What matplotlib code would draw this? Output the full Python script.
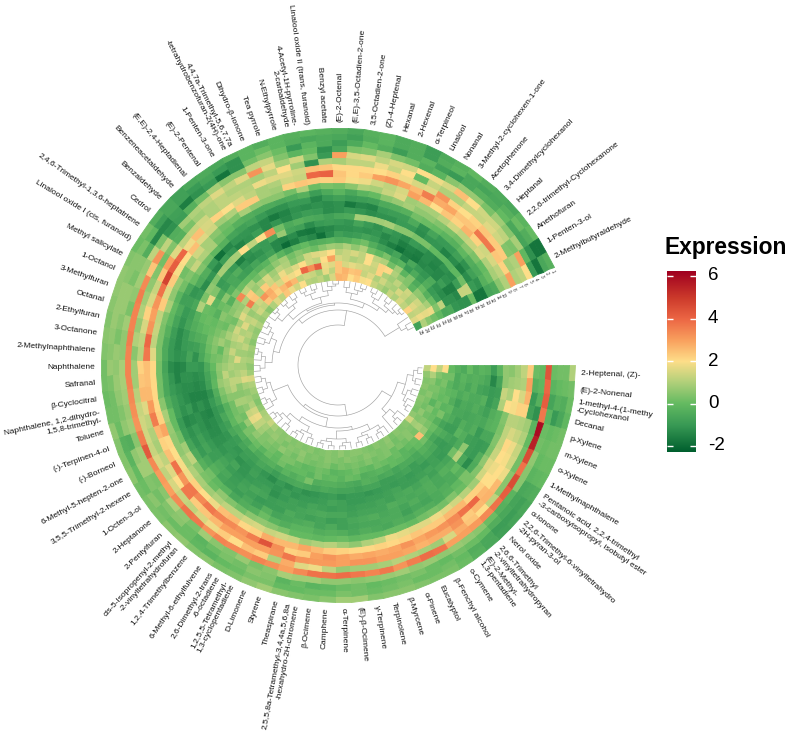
import numpy as np
import matplotlib
matplotlib.use("Agg")
import matplotlib.pyplot as plt
from matplotlib.colors import LinearSegmentedColormap, Normalize

plt.rcParams['font.family'] = ['Liberation Sans', 'DejaVu Sans']

compounds = ["2-Heptenal, (Z)-","(E)-2-Nonenal","1-methyl-4-(1-methy\n-Cyclohexanol","Decanal","p-Xylene","m-Xylene","o-Xylene",
"1-Methylnaphthalene","Pentanoic acid, 2,2,4-trimethyl\n-3-carboxyisopropyl, isobutyl ester","α-Ionone",
"2,2,6-Trimethyl-6-vinyltetrahydro\n-2H-pyran-3-ol","Nerol oxide","2,6,6-Trimethyl\n-2-vinyltetrahydropyran","(E)-2-Methyl-\n1,3-pentadiene",
"o-Cymene","β-Fenchyl alcohol","Eucalyptol","α-Pinene","β-Myrcene","Terpinolene","γ-Terpinene","(E)-β-Ocimene","α-Terpinene","Camphene","β-Ocimene",
"2,5,5,8a-Tetramethyl-3,4,4a,5,6,8a\n-hexahydro-2H-chromene","Theaspirane","Styrene","D-Limonene","1,2,5,5-Tetramethyl-\n1,3-cyclopentadiene",
"2,6-Dimethyl-2-trans\n-6-octadiene","6-Methyl-6-ethylfulvene","1,2,4-Trimethylbenzene","cis-5-Isopropenyl-2-methyl\n-2-vinyltetrahydrofuran",
"2-Pentylfuran","2-Heptanone","1-Octen-3-ol","3,5,5-Trimethyl-2-hexene","6-Methyl-5-hepten-2-one","(-)-Borneol","(-)-Terpinen-4-ol","Toluene",
"Naphthalene, 1,2-dihydro-\n1,5,8-trimethyl-","β-Cyclocitral","Safranal","Naphthalene","2-Methylnaphthalene","3-Octanone","2-Ethylfuran","Octanal",
"3-Methylfuran","1-Octanol","Methyl salicylate","Linalool oxide I (cis, furanoid)","2,4,6-Trimethyl-1,3,6-heptatriene","Cedrol","Benzaldehyde",
"Benzeneacetaldehyde","(E,E)-2,4-Heptadienal","(E)-2-Pentenal","1-Penten-3-one","4,4,7a-Trimethyl-5,6,7,7a\n-tetrahydrobenzofuran-2(4H)-one",
"Dihydro-β-ionone","Tea pyrrole","N-Ethylpyrrole","4-Acetyl-1H-pyrroline-\n2-carbaldehyde","Linalool oxide II (trans, furanoid)","Benzyl acetate",
"(E)-2-Octenal","(E,E)-3,5-Octadien-2-one","3,5-Octadien-2-one","(Z)-4-Heptenal","Hexanal","2-Hexenal","α-Terpineol","Linalool","Nonanal",
"3-Methyl-2-cyclohexen-1-one","Acetophenone","3,4-Dimethylcyclohexanol","Heptanal","2,2,6-trimethyl-Cyclohexanone","Anethofuran","1-Penten-3-ol",
"2-Methylbutyraldehyde"]

ring01 = [1.0,0.2,0.1,-0.1,0.2,0.2,0.1,0.0,-0.4,-0.6, -0.7,-0.8,-0.6,-0.3,0.1,0.3,0.3,0.4,0.5,0.5, 0.4,0.8,0.8,0.5,0.3,0.4,0.5,0.8,0.6,0.4, 0.3,0.5,0.4,0.6,0.5,0.3,0.3,0.2,0.5,0.4, 0.4,0.6,0.2,0.1,0.2,0.2,0.4,0.5,0.4,0.5, 0.6,0.6,0.4,0.1,0.2,-0.4,-0.6,-0.8,-0.6,-0.5, -0.6,-0.4,-0.2,-0.4,-0.2,-0.3,-0.2,-0.3,-0.4,-0.6, -0.3,-0.2,-0.5,-0.4,-0.9,-0.5,-0.3,-0.1,-0.4,-0.5, -0.6,-0.2,0.0,-1.8,-0.3]
ring02 = [0.2,0.1,-0.4,-0.6,0.1,0.2,0.1,-0.1,-0.5,-0.8, -0.9,-0.9,-0.6,-0.4,0,0.2,0.1,0.1,0.3,0.2, 0.1,0.2,0.3,0.1,0.1,0,0,0.3,0.3,0.1, 0,-0.2,-0.1,0.1,0.1,0.2,0.5,0.1,0.0,-0.2, -0.3,0.1,0.2,0.2,0.3,0.7,0.5,0.6,0.7,0.7, 0.7,0.5,0.5,0.3,-0.1,-0.9,-0.6,-0.8,-1,-0.7, -1.0,-1.2,-0.2,0.1,-0.2,-0.4,-0.6,-0.5,-0.6,-0.8, -0.4,-0.2,-0.5,-0.4,-0.9,-0.4,-0.2,-0.6,-0.7,-0.6, -0.3,0.1,-0.4,-1.8,-0.6]
ring03 = [0.2,0,-0.3,-1,0,0.1,0,-0.2,-0.6,-0.7, -0.6,-0.4,0,0.1,0.2,0,0.1,0.3,0.2,0.1, 0,0.2,0.1,-0.1,-0.2,0.1,-0.2,0.4,0.5,0.2, 0.3,0.1,-0.2,0.1,0.5,0.4,0.2,0.4,0.8,0.6, -0.4,0.6,0.4,0.6,0.7,0.6,0.7,0.3,0.5,0.7, 0.7,0.3,0.5,-0.4,-1.4,-1.4,-0.8,-1.6,-1.2,-1.0, -1.8,-1.2,0.2,0.5,0.1,-1.0,-0.2,-0.5,-0.9,-0.5, 0,-0.4,-0.9,-0.4,-0.2,-0.8,-1.0,-0.6,-0.3,-0.4, 0,-0.6,-0.7,-1.2,-1.8]
ring04 = [0.1,-0.2,-0.7,-0.2,0.1,0.2,0.6,0.5,0.5,-0.2, -0.3,0.1,0.5,0.6,0.7,0.6,0.7,0.6,0.8,0.7, 0.6,0.5,0.6,0.6,0.8,0.8,0.9,0.5,0.3,0.7, 0.4,0.5,0.8,0.3,0.6,1.0,0.5,0.3,0.8,0.8, 0.5,0.8,0.7,0.8,0.9,0.9,0.6,0.6,0.8,0.3, 0.6,0.8,0.7,1.2,0.3,-1.2,-0.9,-0.3,0.2,0.9, 0.5,0.5,1.2,1.3,0.4,-0.2,0.0,-1.2,-0.6,0.3, 0.4,0.9,0.4,0.2,-0.4,-0.2,0.5,0.7,0.7,0.3, 0.8,0.5,0.9,-0.1,-1.0]
ring05 = [4.4,4.0,4.2,3.7,6.0,5.6,4.6,3.8,4.6,4.2, 3.8,3.4,3.1,3.0,3.0,3.8,3.9,3.6,3.2,3.7, 3.5,3.7,3.9,3.8,3.8,3.4,3.0,3.3,3.5,3.3, 3.4,3.5,3.2,3.7,3.8,3.4,3.0,3.1,3.4,4.3, 3.6,3.2,3.3,3.4,3.5,3.5,3.5,3.6,3.5,3.5, 3.6,3.4,2.4,3.2,1.2,-0.4,0.8,1.0,1.2,1.6, 1.2,1.6,3.2,1.7,0.9,1.4,0.4,-1.0,3.0,1.5, 1.6,1.2,1.5,1.4,2.0,1.8,1.5,2.5,2.0,1.4, 1.4,1.2,0.3,3.0,2.0]
ring06 = [0,-0.1,-0.3,-1.2,-0.2,0.0,0.2,0.2,0.5,0.5, 1.2,2.0,2.4,2.8,1.5,0.8,0.9,1.0,1.1,0.9, 0.8,0.8,0.7,1.2,1.8,1.6,2.8,1.0,2.3,2.5, 2.0,2.3,1.8,1.5,1.2,1.3,1.5,1.2,1.5,1.3, 1.4,1.4,1.3,1.1,0.8,0.8,0.5,1.0,0.7,1.0, 0.8,0.6,0.4,0.2,0.4,-0.3,0.3,0.8,1.0,1.2, 1.0,1.0,0.9,1.2,2.0,0.8,-1.2,1.0,0.9,1.2, 1.2,1.8,1.3,2.0,0.0,1.3,1.0,1.0,1.3,1.3, 1.6,1.4,0.4,1.0,1.2]
ring07 = [0.1,-0.3,-1.0,-0.8,0.8,1.0,1.3,1.4,1.8,2.6, 2.7,2.6,2.3,3.2,2.8,2.8,2.7,2.9,3.0,3.0, 3.2,3.2,3.0,3.1,3.1,3.2,3.7,3.2,3.0,3.0, 3.0,3.0,2.6,2.4,2.3,3.7,2.0,1.6,1.2,0.9, 1.0,1.2,1.6,2.6,2.4,2.2,1.1,1.2,1.5,2.2, 1.5,1.3,2.4,3.0,1.6,1.2,1.3,1.4,1.0,1.2, 1.2,1.1,1.8,1.6,1.6,1.4,2.5,2.4,2.1,2.1, 2.1,2.0,2.2,1.8,1.5,1.6,3.2,2.2,2.0,2.2, 2.4,2.3,2.3,0.8,1.0]
ring08 = [2.3,3.0,2.7,2.2,1.0,1.3,1.8,1.9,2.0,2.0, 2.6,4.0,3.8,3.4,3.2,3.1,2.9,3.2,2.9,2.8, 2.9,2.8,3.0,3.2,3.0,2.3,2.2,3.3,4.4,3.6, 3.2,3.4,3.5,3.7,3.4,3.7,3.2,3.8,2.5,2.2, 2.6,3.6,3.1,2.6,2.5,2.5,3.7,4.0,3.2,3.0, 3.2,3.8,4.8,4.2,4.0,1.8,2.5,1.5,2.2,2.0, 1.6,1.2,0.9,1.0,1.4,1.3,4.0,4.1,2.4,2.1, 2.3,3.0,3.2,2.9,2.6,3.6,2.8,2.9,2.4,2.4, 3.7,3.7,2.4,2.2,3.0]
ring09 = [1.2,1.0,1.5,2.2,1.1,1.5,2.1,2.0,1.8,2.0, 2.2,2.2,2.6,2.6,2.3,2.3,2.4,2.2,2.1,2.2, 2.1,2.1,2.2,2.3,2.6,2.9,2.6,2.6,2.8,2.2, 2.1,2.6,2.5,1.8,2.0,2.2,1.8,1.9,2.0,2.1, 2.9,2.2,2.1,2.1,2.1,2.1,1.6,1.2,1.3,1.2, 2.3,1.6,2.3,1.9,2.0,2.5,1.6,1.4,0.8,1.0, 2.3,2.3,0.9,0.8,2.2,2.4,2.3,2.2,2.3,1.9, 1.8,1.4,1.2,1.5,3.0,2.6,2.0,2.4,2.2,2.7, 2.2,1.4,1.5,1.2,1.0]
ring10 = [0.8,0.9,2.0,1.9,1.1,1.2,1.2,1.3,1.6,1.4, 0.8,1.1,1.4,1.6,1.8,1.6,1.6,1.7,1.8,1.2, 1.0,0.6,0.8,1.1,1.0,0.8,1.3,1.4,1.3,1.5, 1.4,1.2,1.2,1.0,0.8,0.9,1.0,0.8,0.6,0.6, 0.7,0.9,0.5,0.2,0.2,0.2,0.3,0.3,0.3,0.4, 0.9,0.6,0.7,0.2,0.8,1.4,0.9,0.5,0.2,0.3, 0.9,0.6,0.5,0.5,0.2,1.0,0.1,0.3,0.2,0.5, 1.0,0.9,1.3,1.6,0.8,0.9,0.9,1.1,1.4,1.2, 1.3,1.5,1.0,0.9,0.5]
ring11 = [0.5,0.8,1.0,2.0,0.4,0.3,0.4,0.3,0.6,0.4, 0.3,0.1,0.4,0.2,0.3,0.2,0.0,0.1,0.1,0.0, 0.0,-0.1,0.1,0.0,-0.1,0.0,0.0,0.3,0.5,0.6, 0.5,0.2,0.4,0.6,0.1,0.3,0.5,1.2,0.8,0.2, 0.0,0.0,-0.4,-0.6,-0.6,-0.7,-0.5,-0.5,-0.3,-0.1, 0.0,-0.2,0.2,0.4,1.3,1.0,0.9,0.2,0.0,-0.3, -0.4,-0.5,-0.5,-0.6,-0.5,-0.3,-0.9,-0.5,-0.2,-0.6, -0.2,0.0,0.5,0.7,0.9,0.6,0.6,0.4,0.3,0.2, 0.5,0.3,0.0,0.1,-0.5]
ring12 = [0.6,0.6,1.3,1.0,-0.2,-0.2,-0.6,-0.9,-0.4,-0.5, 0.3,-0.1,-0.3,-0.5,-0.4,-0.3,-0.5,-0.4,-0.6,-0.5, -0.4,-0.6,-0.4,-0.3,-0.4,-0.2,-0.2,-0.4,-0.2,0.1, -0.3,-0.4,-0.6,-0.2,-0.1,0.2,-0.3,-0.5,-0.7,-0.9, -1.0,-0.8,-0.8,-1.0,-1.1,-1.3,-1.0,-1.0,-0.9,-0.7, -0.5,-0.8,-0.6,0.1,0.4,0.2,-0.1,-0.3,-0.7,-0.8, -0.7,-1.0,-1.2,-1.2,-1.0,-1.0,-1.4,-1.0,-0.8,-1.0, -0.9,-0.8,-0.5,-0.4,-0.3,0.2,0.1,0.0,-0.2,-0.3, -0.1,-0.4,-0.5,-0.3,-0.7]
ring13 = [-0.2,-0.7,-0.9,-0.7,-0.4,-0.3,-0.6,-1.0,-1.0,-1.3, -0.3,-0.5,-0.4,-0.5,-0.7,-0.6,-0.8,-0.5,-0.5,-0.6, -0.6,-0.7,-0.8,-0.5,-0.7,-0.4,-0.5,-0.6,-0.7,-0.3, -0.8,-0.6,-0.9,-0.8,-0.7,-0.3,-0.6,-1.0,-1.1,-1.2, -1.4,-1.2,-1.1,-1.2,-1.5,-1.5,-1.2,-1.3,-1.3,-1.1, -1.0,-0.8,-1.1,-0.5,-0.4,-1.0,-1.9,-1.4,-1.1,-1.1, -1.2,-1.4,-1.7,-1.5,-1.2,-1.3,-1.2,-1.3,-1.2,-1.7, -1.4,-1.5,-1.0,-0.9,-0.9,-0.5,-1.2,-0.7,-1.0,-1.0, -0.8,-1.2,-0.8,-1.2,-1.8]
ring14 = [-0.9,-1.4,-1.0,-1.0,-0.8,-0.6,-1.0,-0.9,-0.9,-0.6, 0.0,-0.5,-0.6,-0.4,-0.6,-0.4,-0.7,-0.5,-0.6,-0.4, -0.5,-0.6,-0.8,-0.9,-0.7,-0.8,-0.7,-0.5,-0.9,-0.9, -1.0,-0.8,-0.7,-0.9,-0.6,-0.5,-0.9,-0.7,-0.8,-1.0, -1.3,-1.0,-1.3,-1.3,-1.2,-1.4,-1.1,-1.0,-1.0,-0.7, -0.8,-0.6,-1.0,-1.3,-1.1,-1.4,-0.9,-1.1,-1.5,-1.2, -0.9,-1.4,-1.1,-1.4,-1.1,-0.9,-1.0,-1.3,-1.2,-1.0, -1.1,-1.3,-1.2,-1.2,-1.0,-1.0,-1.3,-1.1,-1.1,-1.5, -1.3,-1.6,-1.3,-1.0,-1.8]
ring15 = [-0.3,-0.6,-0.8,-0.3,-0.6,-0.5,-0.4,-0.8,0.6,1.1, -0.4,-0.3,-0.6,-0.4,-0.5,-0.6,-0.5,-0.4,-0.7,-0.7, -0.7,-0.8,-0.6,-0.6,-0.5,-0.6,-0.7,-0.8,-0.8,-0.9, -0.7,-0.6,-0.8,-1.0,-0.9,-0.7,-0.9,-1.0,-1.1,-1.2, -1.2,-1.4,-1.5,-1.3,-1.2,-1.0,-0.7,-0.9,-0.6,-0.4, -0.3,1.0,0.3,0.6,0.4,0.9,0.8,0.9,2.0,1.2, 2.0,3.3,0.2,-0.5,-0.3,-0.5,-0.6,-0.8,-0.6,-0.5, 0.9,0.8,0.8,0.9,0.5,0.5,0.3,0.3,0.0,-0.1, -0.2,-0.1,0.2,1.3,0.1]
ring16 = [-0.2,-0.4,-0.7,-0.5,-0.4,-0.6,-0.6,-0.4,-0.5,0.2, -0.7,-0.6,-0.8,-0.5,-0.7,-0.5,-0.6,-0.8,-0.7,-0.8, -0.8,-0.9,-0.8,-0.9,-0.8,-0.7,-0.9,-0.8,-1.0,-1.2, -0.8,-0.9,-1.0,-1.1,-0.7,-0.9,-1.1,-1.2,-1.3,-1.4, -1.4,-1.2,-1.5,-1.4,-1.3,-1.0,-1.2,-0.8,-0.4,-0.2, 0.0,0.1,1.7,0.4,-1.0,-0.8,-1.0,-1.6,-1.2,-0.9, -1.0,-0.6,0.7,-0.7,-0.8,-1.3,-1.0,-0.9,-1.0,-1.1, -0.7,-1.0,-1.2,-0.9,-1.1,-1.3,-1.0,-1.1,-1.3,-1.4, -1.2,-1.3,-0.9,1.3,-1.2]
ring17 = [-0.4,-0.3,-0.3,-0.5,-0.6,-0.7,-0.4,-0.2,-0.8,-0.9, -1.0,-0.8,-0.7,-0.8,-0.9,-0.9,-0.7,-0.8,-0.9,-0.9, -1.0,-1.0,-0.8,-0.7,-0.9,-1.0,-1.0,-1.1,-0.9,-1.1, -1.0,-1.0,-0.8,-1.1,-1.2,-1.0,-1.0,-1.2,-1.3,-1.3, -1.5,-1.4,-1.5,-1.3,-1.2,-1.1,-0.6,-0.5,-0.3,0.0, 0.1,0.0,-0.2,-0.5,-0.9,-0.6,-0.4,-1.1,-1.3,-1.2, -1.0,-1.4,-1.5,-1.3,-1.7,-1.8,-1.5,-1.4,-1.2,-1.2, -1.1,-1.2,-1.1,-1.4,-1.2,-1.6,-1.5,-1.6,-1.3,-1.5, -1.4,-1.2,-1.6,-1.4,-1.2]
ring18 = [0.0,-0.4,-0.6,-0.3,-0.5,-0.6,-0.8,-0.9,-0.7,-1.0, -0.9,-0.8,-1.0,-0.9,-1.0,-0.9,-1.0,-0.9,-1.0,-1.1, -1.0,-1.0,-1.1,-0.9,-1.0,-1.1,-1.2,-1.0,-1.2,-1.0, -1.3,-1.1,-0.9,-1.0,-0.9,-1.1,-1.0,-1.1,-1.0,-1.1, -1.1,-1.0,-1.2,-0.8,-0.7,-0.5,-0.1,0.1,0.2,0.1, 0.0,-0.3,0.1,0.5,-0.3,-0.6,-0.8,-0.9,-0.7,-1.0, -0.8,-1.4,-2.0,-1.6,-1.2,-1.4,-1.9,-1.3,-0.8,-1.0, -0.9,-0.7,-0.9,-1.3,-1.6,-1.9,-1.6,-1.7,-1.4,-1.3, -1.4,-0.9,-1.6,-1.2,-1.1]
ring19 = [-0.5,-0.2,-0.3,-0.5,-0.8,-0.6,-0.5,-0.9,-0.5,-0.9, -0.6,-0.5,-0.7,-0.9,-0.7,-0.8,-0.9,-0.9,-0.7,-0.7, -0.8,-0.7,-0.7,-0.6,-0.5,-0.7,-0.6,-0.5,-0.6,-0.7, -0.9,-0.7,-0.6,-0.8,-0.8,-0.7,-0.9,-0.6,-0.8,-0.6, -0.9,-0.6,-0.4,-0.1,-0.2,0.0,0.2,0.4,0.5,0.3, 0.2,0.5,0.2,-0.3,0.4,0.1,0.0,-0.1,-0.3,-0.2, 0.3,-0.2,-0.6,-0.2,0.0,-0.4,-0.3,-0.2,-0.4,-0.3, 0.0,0.2,-0.4,-0.8,-1.0,-0.7,-1.4,-0.6,-1.0,-1.1, -0.5,-1.2,-1.3,-1.2,-0.5]
ring20 = [-0.3,-0.5,-0.5,-0.2,-0.4,-0.1,-0.3,-0.7,-0.3,-0.6, -0.4,-0.3,-0.6,-0.5,-0.5,-0.7,-0.5,-0.6,-0.4,-0.3, -0.6,-0.5,-0.4,-0.3,-0.3,-0.4,0.3,-0.2,-0.4,-0.2, -0.5,-0.3,-0.4,-0.5,-0.2,-0.5,-0.3,-0.4,-0.1,-0.2, -0.3,0.2,0.4,0.7,0.5,0.6,0.3,0.0,0.8,0.5, 0.1,0.3,0.5,0.6,3.4,1.2,0.9,0.2,0.5,0.2, 0.6,0.9,0.2,0.5,0.3,0.1,0.5,0.8,0.7,1.0, 0.6,1.0,0.2,-0.1,0.3,-0.4,-0.2,-1.0,-0.5,-0.9, -0.4,-1.0,-0.9,1.2,-0.6]
ring21 = [0.0,0.2,-0.2,-0.1,0.1,-0.2,0.3,-0.3,0.1,-0.1, 0.2,0.0,-0.3,-0.2,-0.1,0.0,-0.3,-0.2,-0.3,-0.4, 0.0,0.1,-0.2,0.0,-0.1,0.2,-0.2,0.0,0.0,-0.1, 0.2,-0.1,0.1,-0.2,0.1,0.2,0.3,-0.1,0.3,0.2, 0.2,0.5,0.8,0.9,1.2,0.8,0.6,0.7,0.5,0.9, 0.6,0.2,0.8,0.7,1.0,2.3,0.7,1.0,1.5,0.8, 1.2,1.0,0.4,0.7,1.4,1.6,1.7,2.0,1.1,1.3, 1.5,1.2,2.0,1.2,1.0,0.2,0.8,-0.2,0.4,-0.5, 0.1,-0.3,0.1,0.4,-0.1]
ring22 = [2.0,0.2,0.3,0.1,0.0,0.2,0.0,0.1,0.3,0.7, 2.5,0.1,0.0,-0.2,0.1,0.0,0.1,0.2,-0.1,0.0, 0.2,0.0,-0.1,-0.2,0.1,0.2,0.0,-0.1,0.1,0.3, 0.3,0.0,0.2,0.3,0.4,0.6,0.3,0.7,0.2,0.4, 0.9,0.5,1.1,1.2,0.8,1.0,0.9,1.3,0.9,1.2, 1.4,0.9,1.6,1.2,3.6,2.4,1.0,2.3,1.4,1.0, 1.8,1.3,1.6,2.0,1.4,1.2,2.0,3.0,1.5,1.3, 1.0,1.2,2.0,1.4,2.2,2.1,1.0,0.6,0.4,-0.2, 0.6,0.5,0.9,1.8,0.2]
ring23 = [1.2,0.4,0.1,0.3,0.2,-0.2,0.4,0.2,0.5,0.9, 0.3,0.5,0.2,0.3,0.1,0.4,0.3,0.2,0.4,0.2, 0.3,0.2,0.3,0.1,0.4,0.3,0.2,0.3,0.5,0.2, 0.4,0.6,0.3,0.5,0.4,0.8,1.2,1.7,1.3,0.6, 0.9,0.5,0.6,1.2,1.0,0.9,1.6,0.8,1.0,1.4, 1.0,1.6,1.2,0.7,1.1,1.4,3.2,2.8,2.4,1.5, 2.2,1.8,2.0,4.0,3.3,4.2,1.8,1.6,2.4,1.5, 1.7,1.5,1.4,1.3,2.2,1.0,0.8,1.2,0.7,1.4, 1.0,1.4,1.2,1.7,0.5]
ring24 = [2.0,1.0,0.5,0.3,0.5,0.3,0.2,0.6,0.4,0.8, 0.4,0.5,0.4,0.2,0.5,0.4,0.3,0.4,0.5,0.3, 0.4,0.5,0.3,0.4,0.5,0.3,0.4,0.3,0.6,0.4, 0.5,0.3,0.5,0.7,0.6,0.9,1.2,1.8,1.4,1.0, 0.8,0.6,0.9,1.6,1.2,0.9,1.0,0.8,1.2,0.9, 1.1,0.9,1.3,0.8,1.4,1.2,2.4,2.7,2.2,2.6, 3.0,2.6,1.2,1.4,1.3,0.9,1.7,1.2,2.4,2.7, 2.4,2.5,1.3,1.6,1.0,1.4,1.0,0.9,1.5,1.3, 0.9,1.6,1.3,1.8,1.0]
ring25 = [1.2,0.6,0.4,0.5,0.3,0.5,0.4,0.3,0.6,1.4, 0.5,0.4,0.5,0.3,0.6,0.4,0.5,0.3,0.4,0.5, 0.5,0.4,0.6,0.4,0.5,0.4,0.3,0.5,0.4,0.5, 0.4,0.6,0.5,0.6,0.9,1.3,1.0,0.9,0.6,0.4, 0.6,0.8,1.0,1.5,0.8,0.6,0.9,0.7,0.8,0.5, 0.7,0.6,1.0,0.7,0.9,0.5,1.0,1.6,1.2,2.4, 1.8,1.4,2.0,1.1,1.0,1.2,0.8,1.5,2.7,2.6, 2.0,2.3,1.9,2.0,1.3,1.0,0.7,1.3,1.0,1.5, 1.2,2.2,1.2,1.6,-0.8]

rings = [ring01,ring02,ring03,ring04,ring05,ring06,ring07,ring08,ring09,ring10,ring11,ring12,ring13,
         ring14,ring15,ring16,ring17,ring18,ring19,ring20,ring21,ring22,ring23,ring24,ring25]
ring_labels = [str(i) for i in range(1, 26)]
legend_ticks = [6, 4, 2, 0, -2]

# dendrogram: (join radius in px, child, child); ints are column indices
A1 = (62,(70,(76,(80,0,1),(79,2,3)),(74,(78,4,5),(77,6,(80,7,8)))),(68,(75,9,(79,10,11)),12))
A2 = (66,(72,(76,13,(79,14,15)),(75,(79,16,17),(80,18,19))),(74,(78,20,(81,21,22)),(77,(81,23,24),(80,25,26))))
A3 = (68,(74,(78,27,28),(77,29,(80,30,31))),(73,(78,32,33),(77,34,(80,35,36))))
A4 = (70,(76,37,(80,38,39)),(74,(79,40,41),(78,42,43)))
U1a = (66,(73,(78,44,45),(77,46,(81,47,48))),(72,(77,49,50),(76,51,(80,52,53))))
U1b = (64,(71,(77,54,(81,55,56)),(75,(80,57,58),(79,59,60))),(70,(76,(80,61,62),(79,63,64)),(75,65,(79,66,(81,67,68)))))
U1c = (67,(73,(78,69,70),(77,71,(80,72,73))),(71,(76,(80,74,75),76),(75,(79,77,78),(78,79,(81,80,81)))))
U2 = (72,82,(78,83,84))
tree = (40,(51,A1,(54,(63,A2,A3),A4)),(55,(60,U1a,(62,U1b,U1c)),U2))

# geometry in pixels
W, H = 788, 736
CX, CY = 338, 365
BOX = 300
R_OUT, R_IN = 237.0, 85.5
SPAN = 335.5

fig = plt.figure(figsize=(W/100, H/100), dpi=100)
ax = fig.add_axes([(CX-BOX)/W, 1-(CY+BOX)/H, 2*BOX/W, 2*BOX/H], projection='polar')
ax.set_theta_zero_location('E')
ax.set_theta_direction(-1)
ax.set_ylim(0, BOX)
ax.axis('off')

stops = [(-2.27,'#005F2E'),(-1,'#399A55'),(0,'#64BA61'),(1,'#B0D07A'),(2,'#FEDE89'),(3,'#F9A05E'),(4,'#EC6644'),(5,'#CC3A2B'),(6.25,'#A00020')]
vmin, vmax = stops[0][0], stops[-1][0]
cmap = LinearSegmentedColormap.from_list('expr', [((v-vmin)/(vmax-vmin), c) for v, c in stops], N=512)
norm = Normalize(vmin, vmax)

n_col = len(compounds)
n_ring = len(rings)
M = np.array(rings)
theta_edges = np.deg2rad(np.linspace(0, SPAN, n_col+1))
r_edges = np.linspace(R_OUT, R_IN, n_ring+1)
ax.pcolormesh(theta_edges, r_edges, M, cmap=cmap, norm=norm, shading='flat',
              edgecolors='face', linewidth=0.6, antialiased=True)

# column labels
step = SPAN/n_col
for i, lab in enumerate(compounds):
    deg = (i+0.5)*step
    t = np.deg2rad(deg)
    if 90 < deg < 270:
        ax.text(t, 243, lab, rotation=180-deg, ha='right', va='center', rotation_mode='anchor',
                multialignment='right', fontsize=6.05, color='#111111', linespacing=1.2)
    else:
        ax.text(t, 243, lab, rotation=-deg, ha='left', va='center', rotation_mode='anchor',
                multialignment='left', fontsize=6.05, color='#111111', linespacing=1.2)

# ring labels in the gap
for k, lab in enumerate(ring_labels):
    rc = 0.5*(r_edges[k]+r_edges[k+1])
    ax.text(np.deg2rad(SPAN+0.6+(237-rc)*0.006), rc, lab, rotation=-SPAN-90+360, ha='left', va='center',
            rotation_mode='anchor', fontsize=3.3, color='#333333')

# dendrogram
def draw(node):
    if isinstance(node, int):
        return (node+0.5)*step, R_IN-1.0
    r, a, b = node
    ta, ra = draw(a)
    tb, rb = draw(b)
    for tc, rc in ((ta, ra), (tb, rb)):
        ax.plot([np.deg2rad(tc)]*2, [r, rc], color='#a0a0a0', lw=0.45, solid_capstyle='butt')
    arc = np.deg2rad(np.linspace(ta, tb, 80))
    ax.plot(arc, np.full(80, r), color='#a0a0a0', lw=0.45)
    return 0.5*(ta+tb), r
draw(tree)

# legend
cax = fig.add_axes([667/W, 1-452/H, 29/W, 181/H])
grad = np.linspace(vmax, vmin, 400)[:, None]
cax.imshow(grad, aspect='auto', cmap=cmap, norm=norm, extent=[0, 1, vmin, vmax])
cax.set_axis_off()
for v in legend_ticks:
    cax.plot([0, 0.2], [v, v], color='white', lw=1.0, solid_capstyle='butt')
    cax.plot([0.8, 1], [v, v], color='white', lw=1.0, solid_capstyle='butt')
    fig.text(708/W, 1-(403.5-21.25*v)/H, str(v), fontsize=13.5, ha='left', va='center', color='black')
cax.set_xlim(0, 1)
cax.set_ylim(vmin, vmax)
fig.text(665/W, 1-248/H, "Expression", fontsize=16.4, fontweight='bold', ha='left', va='center', color='black')

fig.savefig("out.png", dpi=100, facecolor='white')
